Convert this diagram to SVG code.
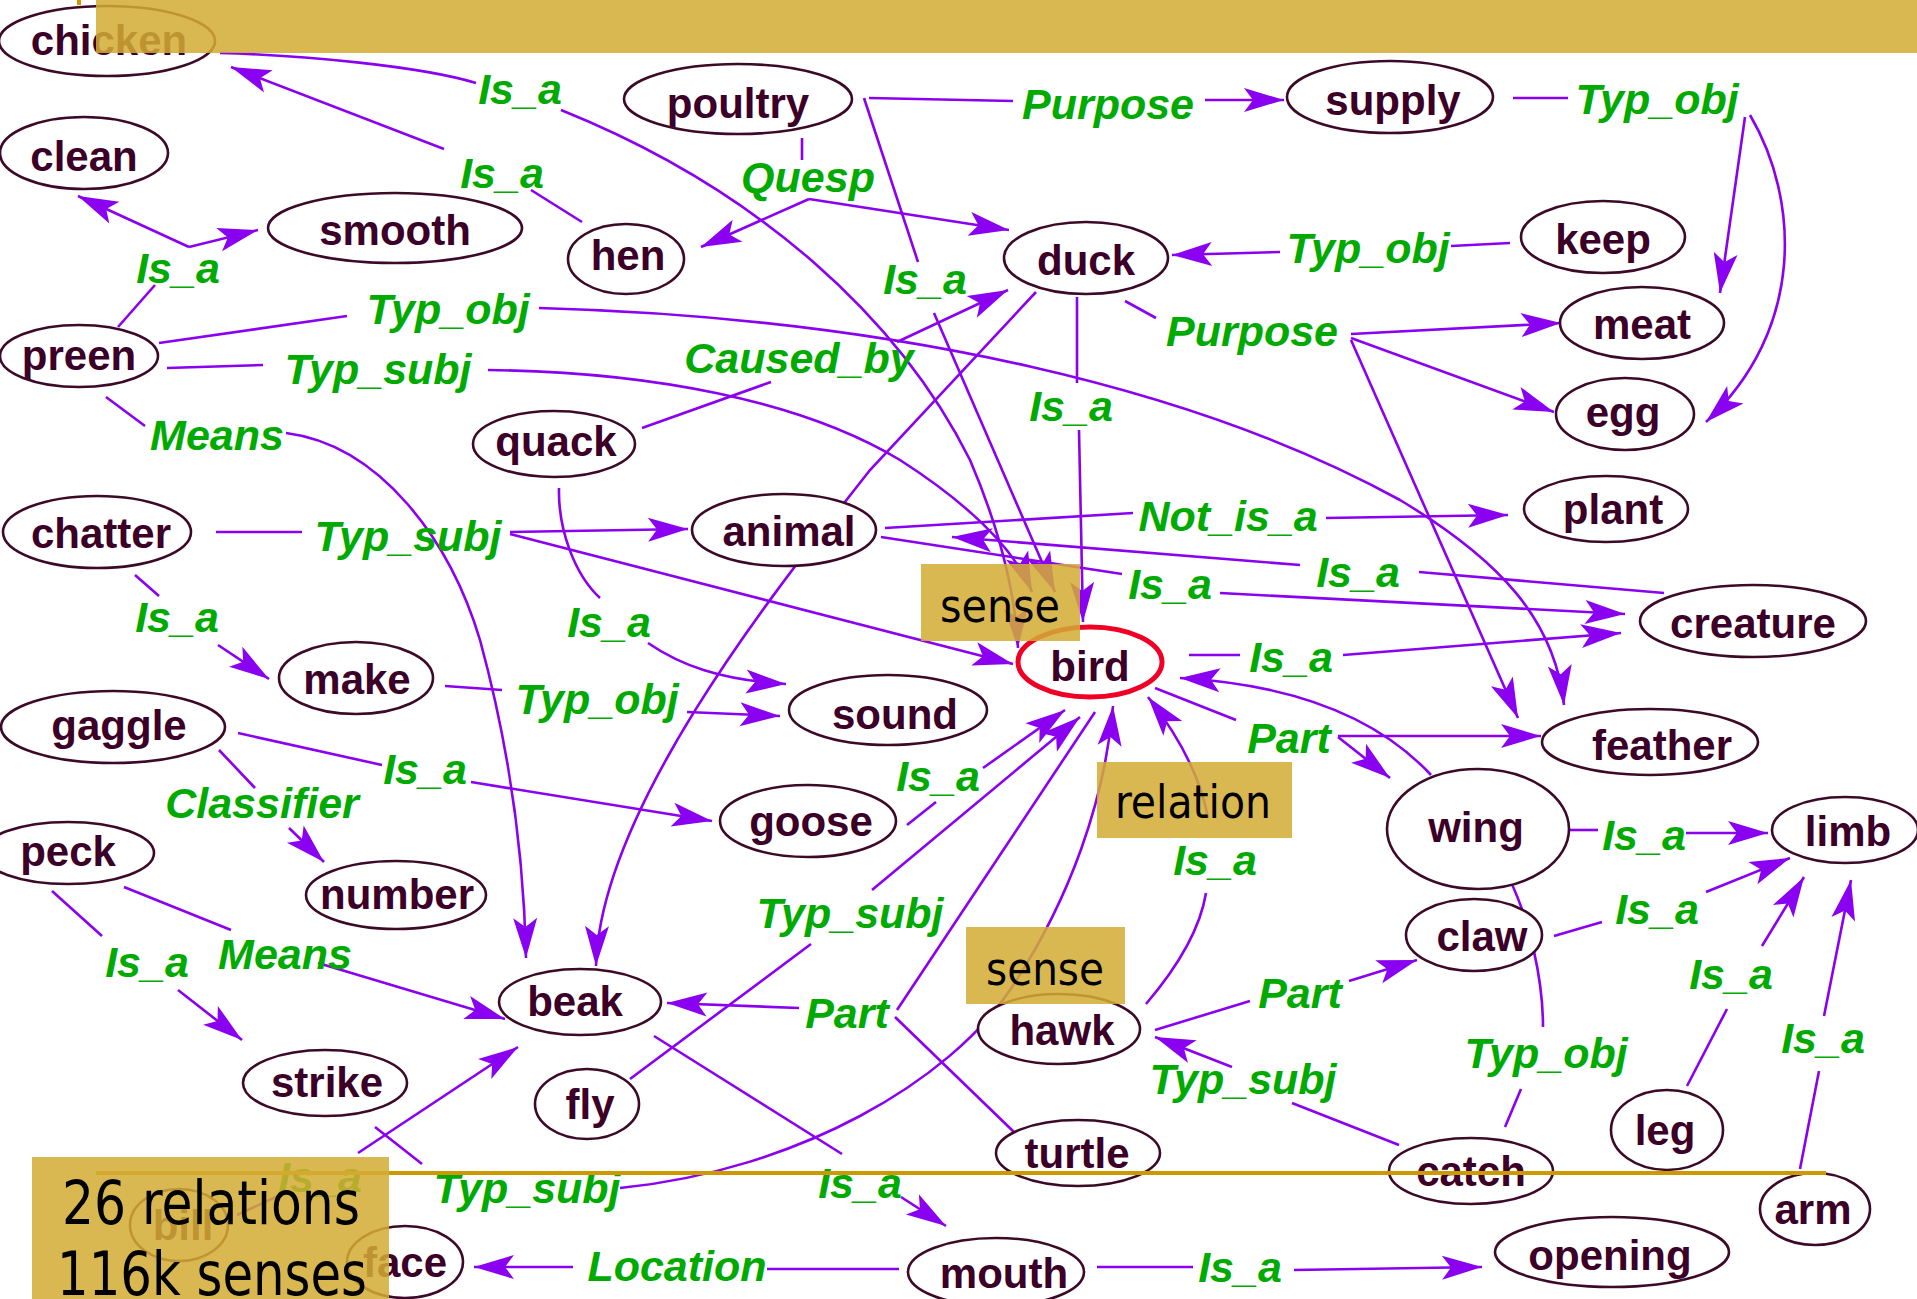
<svg xmlns="http://www.w3.org/2000/svg" width="1917" height="1299" viewBox="0 0 1917 1299">
  <style>
    .e { fill: none; stroke: #8a00f0; stroke-width: 2.6; }
    .a { marker-end: url(#ah); }
    .lbl { font-family: "Liberation Sans", Arial, sans-serif; font-weight: bold; font-style: italic; font-size: 43px; fill: #00aa00; text-anchor: middle; }
    .node ellipse { fill: #ffffff; stroke: #3c0a28; stroke-width: 2.6; }
    .node text { font-family: "Liberation Sans", Arial, sans-serif; font-weight: bold; font-size: 42px; fill: #3c0028; text-anchor: middle; }
    .focus ellipse { stroke: #f00024; stroke-width: 5; }
    .gold { fill: #d4ac34; fill-opacity: 0.86; }
    .note { font-family: "DejaVu Sans Condensed", "DejaVu Sans", sans-serif; font-stretch: condensed; fill: #000000; }
  </style>
  <defs>
    <marker id="ah" viewBox="-42 -14 44 28" refX="0" refY="0" markerWidth="44" markerHeight="28" markerUnits="userSpaceOnUse" orient="auto">
      <path d="M0,0 L-40,-12 L-31,0 L-40,12 Z" fill="#8a00f0"/>
    </marker>
  </defs>
  <rect width="1917" height="1299" fill="#ffffff"/>

  <!-- connectors: segments are broken where the relation label sits -->
  <g id="connectors">
    <!-- chicken Is_a bird -->
    <path class="e" d="M220,53 C300,55 420,66 476,83"/>
    <path class="e a" d="M561,110 C760,190 900,320 970,460 C1000,530 1015,590 1018,648"/>
    <!-- hen Is_a chicken -->
    <path class="e" d="M582,222 L531,190"/>
    <path class="e a" d="M444,149 L231,67"/>
    <!-- preen Is_a clean / smooth -->
    <path class="e" d="M118,327 L155,285"/>
    <path class="e a" d="M189,247 L78,196"/>
    <path class="e a" d="M189,247 L258,230"/>
    <!-- preen Typ_obj feather -->
    <path class="e" d="M159,343 L347,316"/>
    <path class="e a" d="M539,308 C900,318 1200,390 1400,500 C1500,560 1555,620 1564,705"/>
    <!-- preen Typ_subj bird -->
    <path class="e" d="M167,368 L263,365"/>
    <path class="e a" d="M488,370 C650,372 800,400 900,460 C970,505 1015,550 1032,592"/>
    <!-- preen Means beak -->
    <path class="e" d="M106,397 L145,426"/>
    <path class="e a" d="M286,433 C380,445 450,540 480,640 C510,750 524,860 526,958"/>
    <!-- poultry Quesp hen / duck -->
    <path class="e" d="M802,138 L802,160"/>
    <path class="e a" d="M809,199 L701,247"/>
    <path class="e a" d="M809,199 L1009,230"/>
    <!-- poultry Purpose supply -->
    <path class="e" d="M869,98 L1013,101"/>
    <path class="e a" d="M1205,100 L1284,100"/>
    <!-- supply Typ_obj meat / egg -->
    <path class="e" d="M1513,98 L1568,98"/>
    <path class="e a" d="M1745,117 L1720,293"/>
    <path class="e a" d="M1750,115 C1800,200 1805,330 1706,422"/>
    <!-- keep Typ_obj duck -->
    <path class="e" d="M1510,243 L1451,246"/>
    <path class="e a" d="M1280,252 L1172,255"/>
    <!-- poultry Is_a bird -->
    <path class="e" d="M864,98 L918,262"/>
    <path class="e a" d="M934,313 L1055,592"/>
    <!-- quack Caused_by duck -->
    <path class="e" d="M642,428 L771,382"/>
    <path class="e a" d="M897,342 L1008,290"/>
    <!-- duck to beak, running behind animal -->
    <path class="e a" d="M1036,292 L870,470 C800,560 600,800 596,966"/>
    <!-- duck Purpose meat / egg / feather -->
    <path class="e" d="M1125,301 L1156,318"/>
    <path class="e a" d="M1351,334 L1561,323"/>
    <path class="e a" d="M1351,338 L1554,412"/>
    <path class="e a" d="M1351,340 L1518,718"/>
    <!-- duck Is_a bird -->
    <path class="e" d="M1077,297 L1077,383"/>
    <path class="e a" d="M1079,430 L1083,622"/>
    <!-- chatter Typ_subj animal / bird -->
    <path class="e" d="M216,532 L302,532"/>
    <path class="e a" d="M510,532 L688,529"/>
    <path class="e a" d="M510,534 L1013,664"/>
    <!-- animal Not_is_a plant -->
    <path class="e" d="M885,528 L1133,513"/>
    <path class="e a" d="M1326,518 L1508,515"/>
    <!-- creature Is_a animal -->
    <path class="e" d="M1664,593 L1419,572"/>
    <path class="e a" d="M1300,565 L952,537"/>
    <!-- animal Is_a creature -->
    <path class="e" d="M881,537 L1122,574"/>
    <path class="e a" d="M1220,593 L1625,614"/>
    <!-- bird Is_a creature -->
    <path class="e" d="M1189,655 L1240,655"/>
    <path class="e a" d="M1343,655 L1621,633"/>
    <!-- quack Is_a sound -->
    <path class="e" d="M559,488 C558,530 575,575 600,598"/>
    <path class="e a" d="M648,643 C680,665 720,680 786,684"/>
    <!-- make Typ_obj sound -->
    <path class="e" d="M445,686 L502,690"/>
    <path class="e a" d="M687,712 L780,716"/>
    <!-- chatter Is_a make -->
    <path class="e" d="M135,575 L159,596"/>
    <path class="e a" d="M218,645 L269,679"/>
    <!-- gaggle Is_a goose -->
    <path class="e" d="M238,733 L382,765"/>
    <path class="e a" d="M471,782 L712,821"/>
    <!-- gaggle Classifier number -->
    <path class="e" d="M219,750 L255,788"/>
    <path class="e a" d="M289,828 L324,862"/>
    <!-- goose Is_a bird -->
    <path class="e" d="M907,825 L936,802"/>
    <path class="e a" d="M983,768 L1065,710"/>
    <!-- fly Typ_subj bird -->
    <path class="e" d="M630,1079 L811,944"/>
    <path class="e a" d="M872,890 L1080,717"/>
    <!-- bird / turtle Part beak -->
    <path class="e" d="M1095,712 L897,1010"/>
    <path class="e a" d="M799,1008 L667,1003"/>
    <path class="e" d="M895,1017 L1015,1133"/>
    <!-- strike Typ_subj bird, running behind hawk -->
    <path class="e" d="M375,1127 L422,1164"/>
    <path class="e a" d="M620,1188 C800,1170 950,1080 1010,990 C1070,900 1105,800 1113,706"/>
    <!-- hawk Is_a bird -->
    <path class="e" d="M1146,1004 C1175,970 1200,930 1206,893"/>
    <path class="e a" d="M1208,818 C1200,775 1178,735 1148,697"/>
    <!-- bird Part feather / wing -->
    <path class="e" d="M1155,688 L1236,720"/>
    <path class="e a" d="M1338,736 L1541,736"/>
    <path class="e a" d="M1338,737 L1390,778"/>
    <!-- wing back to bird -->
    <path class="e a" d="M1431,775 C1380,720 1300,685 1180,678"/>
    <!-- wing / claw / leg / arm Is_a limb -->
    <path class="e" d="M1570,830 L1598,830"/>
    <path class="e a" d="M1686,833 L1768,833"/>
    <path class="e" d="M1554,936 L1602,922"/>
    <path class="e a" d="M1706,892 L1790,858"/>
    <path class="e" d="M1687,1086 L1727,1009"/>
    <path class="e a" d="M1762,946 L1804,877"/>
    <path class="e" d="M1800,1169 L1819,1071"/>
    <path class="e a" d="M1824,1016 L1851,880"/>
    <!-- hawk Part claw -->
    <path class="e" d="M1155,1030 L1250,1001"/>
    <path class="e a" d="M1349,981 L1417,960"/>
    <!-- catch Typ_subj hawk -->
    <path class="e" d="M1399,1145 L1292,1103"/>
    <path class="e a" d="M1232,1067 L1155,1037"/>
    <!-- catch Typ_obj wing, running behind claw -->
    <path class="e" d="M1505,1127 L1521,1089"/>
    <path class="e" d="M1543,1027 C1543,980 1530,920 1508,876"/>
    <!-- beak Is_a mouth -->
    <path class="e" d="M654,1036 L842,1154"/>
    <path class="e a" d="M901,1197 L946,1226"/>
    <!-- mouth Location face -->
    <path class="e" d="M899,1269 L767,1269"/>
    <path class="e a" d="M573,1267 L474,1267"/>
    <!-- mouth Is_a opening -->
    <path class="e" d="M1097,1267 L1193,1267"/>
    <path class="e a" d="M1294,1270 L1482,1267"/>
    <!-- peck Is_a strike -->
    <path class="e" d="M52,891 L102,936"/>
    <path class="e a" d="M178,990 L242,1040"/>
    <!-- peck Means beak -->
    <path class="e" d="M124,887 L231,930"/>
    <path class="e a" d="M318,963 L505,1019"/>
    <!-- bill Is_a beak -->
    <path class="e" d="M237,1215 L278,1196"/>
    <path class="e a" d="M358,1153 L518,1047"/>
  </g>

  <!-- concept nodes -->
  <g class="node" id="n-chicken"><ellipse cx="107" cy="41" rx="108" ry="35"/><text x="109" y="55">chicken</text></g>
  <g class="node" id="n-clean"><ellipse cx="84" cy="153" rx="84" ry="36"/><text x="84" y="171">clean</text></g>
  <g class="node" id="n-smooth"><ellipse cx="395" cy="228" rx="127" ry="35"/><text x="395" y="245">smooth</text></g>
  <g class="node" id="n-hen"><ellipse cx="626" cy="259" rx="58" ry="35"/><text x="628" y="270">hen</text></g>
  <g class="node" id="n-preen"><ellipse cx="79" cy="356" rx="79" ry="31"/><text x="79" y="370">preen</text></g>
  <g class="node" id="n-poultry"><ellipse cx="738" cy="99" rx="114" ry="35"/><text x="738" y="118">poultry</text></g>
  <g class="node" id="n-supply"><ellipse cx="1390" cy="97" rx="103" ry="36"/><text x="1393" y="115">supply</text></g>
  <g class="node" id="n-keep"><ellipse cx="1603" cy="237" rx="82" ry="36"/><text x="1603" y="254">keep</text></g>
  <g class="node" id="n-meat"><ellipse cx="1642" cy="323" rx="82" ry="36"/><text x="1642" y="339">meat</text></g>
  <g class="node" id="n-egg"><ellipse cx="1625" cy="414" rx="69" ry="36"/><text x="1623" y="427">egg</text></g>
  <g class="node" id="n-duck"><ellipse cx="1086" cy="258" rx="82" ry="36"/><text x="1086" y="275">duck</text></g>
  <g class="node" id="n-quack"><ellipse cx="554" cy="444" rx="81" ry="33"/><text x="556" y="456">quack</text></g>
  <g class="node" id="n-chatter"><ellipse cx="97" cy="532" rx="94" ry="36"/><text x="101" y="548">chatter</text></g>
  <g class="node" id="n-animal"><ellipse cx="784" cy="530" rx="92" ry="36"/><text x="789" y="546">animal</text></g>
  <g class="node" id="n-plant"><ellipse cx="1606" cy="509" rx="82" ry="33"/><text x="1613" y="524">plant</text></g>
  <g class="node" id="n-creature"><ellipse cx="1753" cy="621" rx="113" ry="36"/><text x="1753" y="638">creature</text></g>
  <g class="node focus" id="n-bird"><ellipse cx="1090" cy="662" rx="72" ry="35"/><text x="1090" y="681">bird</text></g>
  <g class="node" id="n-make"><ellipse cx="356" cy="678" rx="77" ry="36"/><text x="357" y="694">make</text></g>
  <g class="node" id="n-sound"><ellipse cx="888" cy="710" rx="99" ry="35"/><text x="895" y="729">sound</text></g>
  <g class="node" id="n-gaggle"><ellipse cx="113" cy="727" rx="112" ry="36"/><text x="119" y="740">gaggle</text></g>
  <g class="node" id="n-goose"><ellipse cx="808" cy="821" rx="88" ry="36"/><text x="811" y="836">goose</text></g>
  <g class="node" id="n-feather"><ellipse cx="1650" cy="742" rx="108" ry="33"/><text x="1662" y="760">feather</text></g>
  <g class="node" id="n-wing"><ellipse cx="1478" cy="829" rx="91" ry="60"/><text x="1476" y="842">wing</text></g>
  <g class="node" id="n-limb"><ellipse cx="1845" cy="830" rx="73" ry="33"/><text x="1848" y="846">limb</text></g>
  <g class="node" id="n-peck"><ellipse cx="68" cy="853" rx="86" ry="31"/><text x="68" y="866">peck</text></g>
  <g class="node" id="n-number"><ellipse cx="396" cy="895" rx="90" ry="34"/><text x="397" y="909">number</text></g>
  <g class="node" id="n-beak"><ellipse cx="580" cy="1002" rx="81" ry="33"/><text x="575" y="1016">beak</text></g>
  <g class="node" id="n-strike"><ellipse cx="325" cy="1083" rx="82" ry="33"/><text x="327" y="1097">strike</text></g>
  <g class="node" id="n-fly"><ellipse cx="587" cy="1104" rx="52" ry="35"/><text x="590" y="1119">fly</text></g>
  <g class="node" id="n-claw"><ellipse cx="1474" cy="935" rx="68" ry="36"/><text x="1482" y="951">claw</text></g>
  <g class="node" id="n-hawk"><ellipse cx="1059" cy="1029" rx="81" ry="35"/><text x="1062" y="1045">hawk</text></g>
  <g class="node" id="n-turtle"><ellipse cx="1078" cy="1153" rx="82" ry="33"/><text x="1077" y="1168">turtle</text></g>
  <g class="node" id="n-leg"><ellipse cx="1667" cy="1130" rx="56" ry="40"/><text x="1665" y="1145">leg</text></g>
  <g class="node" id="n-catch"><ellipse cx="1471" cy="1171" rx="82" ry="33"/><text x="1471" y="1186">catch</text></g>
  <g class="node" id="n-arm"><ellipse cx="1815" cy="1209" rx="55" ry="36"/><text x="1813" y="1224">arm</text></g>
  <g class="node" id="n-opening"><ellipse cx="1612" cy="1252" rx="117" ry="35"/><text x="1610" y="1270">opening</text></g>
  <g class="node" id="n-mouth"><ellipse cx="996" cy="1272" rx="88" ry="34"/><text x="1004" y="1288">mouth</text></g>
  <g class="node" id="n-face"><ellipse cx="405" cy="1262" rx="58" ry="36"/><text x="405" y="1277">face</text></g>
  <g class="node" id="n-bill"><ellipse cx="179" cy="1225" rx="49" ry="36"/><text x="183" y="1240">bill</text></g>

  <!-- relation labels -->
  <g id="relation-labels" class="lbl">
    <text x="520" y="104">Is_a</text>
    <text x="502" y="188">Is_a</text>
    <text x="178" y="283">Is_a</text>
    <text x="448" y="324">Typ_obj</text>
    <text x="378" y="384">Typ_subj</text>
    <text x="217" y="450">Means</text>
    <text x="808" y="192">Quesp</text>
    <text x="1108" y="119">Purpose</text>
    <text x="1657" y="114">Typ_obj</text>
    <text x="1368" y="263">Typ_obj</text>
    <text x="925" y="294">Is_a</text>
    <text x="799" y="373">Caused_by</text>
    <text x="1252" y="346">Purpose</text>
    <text x="1071" y="421">Is_a</text>
    <text x="408" y="551">Typ_subj</text>
    <text x="1228" y="531">Not_is_a</text>
    <text x="1358" y="587">Is_a</text>
    <text x="1170" y="599">Is_a</text>
    <text x="609" y="637">Is_a</text>
    <text x="177" y="632">Is_a</text>
    <text x="597" y="714">Typ_obj</text>
    <text x="1291" y="672">Is_a</text>
    <text x="425" y="784">Is_a</text>
    <text x="262" y="818">Classifier</text>
    <text x="938" y="791">Is_a</text>
    <text x="1289" y="753">Part</text>
    <text x="1644" y="850">Is_a</text>
    <text x="147" y="977">Is_a</text>
    <text x="285" y="969">Means</text>
    <text x="850" y="928">Typ_subj</text>
    <text x="1215" y="875">Is_a</text>
    <text x="847" y="1028">Part</text>
    <text x="1300" y="1008">Part</text>
    <text x="1657" y="924">Is_a</text>
    <text x="1731" y="989">Is_a</text>
    <text x="1823" y="1053">Is_a</text>
    <text x="1546" y="1068">Typ_obj</text>
    <text x="1243" y="1094">Typ_subj</text>
    <text x="860" y="1198">Is_a</text>
    <text x="527" y="1203">Typ_subj</text>
    <text x="320" y="1192">Is_a</text>
    <text x="677" y="1281">Location</text>
    <text x="1240" y="1282">Is_a</text>
  </g>

  <!-- slide furniture: rule, banner and callouts laid over the graph -->
  <line x1="96" y1="1173" x2="1826" y2="1173" stroke="#cc9900" stroke-width="4"/>
  <rect x="77" y="0" width="4" height="5" fill="#cc9900"/>
  <rect class="gold" x="96" y="0" width="1821" height="53"/>

  <g id="callout-sense-bird">
    <rect class="gold" x="921" y="564" width="159" height="77"/>
    <text class="note" x="940" y="622" font-size="47" textLength="120" lengthAdjust="spacingAndGlyphs">sense</text>
  </g>
  <g id="callout-relation">
    <rect class="gold" x="1097" y="762" width="195" height="76"/>
    <text class="note" x="1115" y="818" font-size="47" textLength="156" lengthAdjust="spacingAndGlyphs">relation</text>
  </g>
  <g id="callout-sense-hawk">
    <rect class="gold" x="966" y="927" width="159" height="77"/>
    <text class="note" x="986" y="985" font-size="47" textLength="118" lengthAdjust="spacingAndGlyphs">sense</text>
  </g>
  <g id="callout-counts">
    <rect class="gold" x="32" y="1157" width="357" height="142"/>
    <text class="note" x="62" y="1224" font-size="60" textLength="298" lengthAdjust="spacingAndGlyphs">26 relations</text>
    <text class="note" x="57" y="1295" font-size="60" textLength="310" lengthAdjust="spacingAndGlyphs">116k senses</text>
  </g>
</svg>
